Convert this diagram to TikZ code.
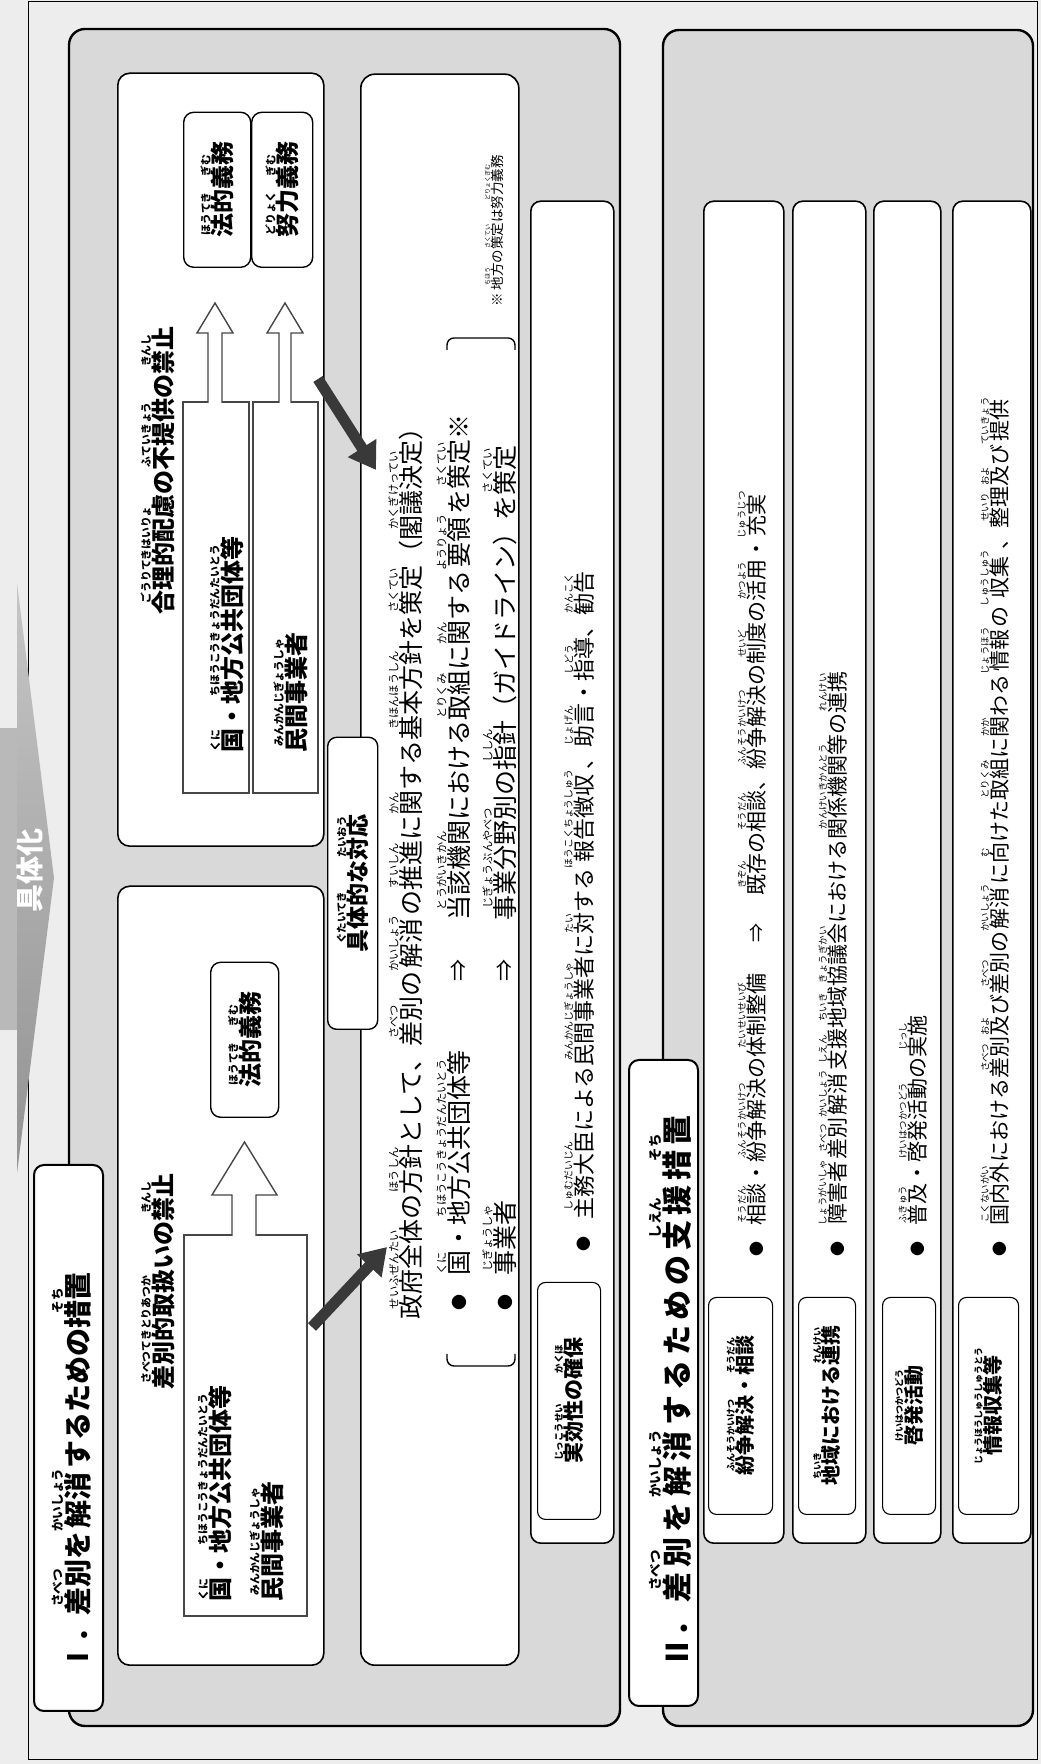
\documentclass[tikz,border=0pt]{standalone}
\usepackage{fontspec}
\setmainfont{Noto Sans CJK JP}
\usetikzlibrary{arrows.meta}
\newcommand\rb[2]{\leavevmode\vbox{\offinterlineskip\tabskip=0pt\halign{\hfil##\hfil\cr{\fontsize{0.45em}{0.45em}\selectfont #2}\cr\noalign{\kern0.02em}\vrule height0.84em width0pt #1\cr}}}
\newcommand\fs[1]{\fontsize{#1}{#1}\selectfont}
\newcommand\gp{\kern5pt}
\tikzset{
  txt/.style={inner sep=0pt, anchor=base west},
  ctxt/.style={inner sep=0pt, anchor=center},
  panel/.style={draw=black, line width=2.4pt, fill=gray!30, rounded corners=16pt, inner sep=0pt, outer sep=0pt, anchor=north west},
  wbox/.style={draw=black, line width=1.6pt, fill=white, rounded corners=12pt, inner sep=0pt, anchor=north west},
  gbox/.style={draw=gray!55!black, line width=1.5pt, fill=white, inner sep=0pt, anchor=north west},
  lbox/.style={draw=black, line width=1.1pt, fill=white, rounded corners=8pt, inner sep=0pt, anchor=north west},
  hollowline/.style={draw=gray!55!black, line width=1.4pt, line join=miter},
  dark/.style={line width=11pt, draw=gray!45!black, -{Triangle[length=26pt,width=32pt]}},
  brk/.style={draw=black, line width=1.4pt, rounded corners=7pt},
}
\begin{document}
\begin{tikzpicture}[x=1pt,y=1pt]
\fill[gray!14] (0,0) rectangle (1041,1764);
\useasboundingbox (0,0) rectangle (1041,1764);
\begin{scope}[rotate=90, transform shape]
% outer frame
\node[draw=black, line width=0.8pt, inner sep=0pt, anchor=north west, minimum width=1758, minimum height=1009] (frame) at (4,-28) {};
% gutaika arrow
\fill[gray!55] (734,6) rectangle (1036,-17);
\shade[top color=gray!45, bottom color=gray!85] (591,-17) -- (1181,-17) -- (886,-54) -- cycle;
\node[ctxt, font=\fs{28}\bfseries, text=white] (gutai) at (893,-30) {具体化};
% panels
\node[panel, minimum width=1697, minimum height=551] (panelI) at (38,-69) {};
\node[panel, minimum width=1696, minimum height=370] (panelII) at (38,-663) {};
% title I
\node[wbox, rounded corners=10pt, line width=2pt, minimum width=546, minimum height=69] (tIbox) at (52,-33) {};
\node[txt, font=\fs{28}\bfseries] (tI) at (92,-88) {Ⅰ．\rb{差別}{さべつ}を\rb{解消}{かいしょう}するための\rb{措置}{そち}};
% Box A
\node[wbox, minimum width=779, minimum height=206] (boxA) at (98,-117) {};
\node[txt, font=\fs{24}\bfseries] (tA) at (374,-172) {\rb{差別的取扱}{さべつてきとりあつか}いの\rb{禁止}{きんし}};
\node[gbox, minimum width=381, minimum height=123] (inA) at (147,-183) {};
\node[txt, font=\fs{24}\bfseries] (inA1) at (162,-229) {\rb{国}{くに}・\rb{地方公共団体等}{ちほうこうきょうだんたいとう}};
\node[txt, font=\fs{24}\bfseries] (inA2) at (162,-281) {\rb{民間事業者}{みんかんじぎょうしゃ}};
\fill[white] (526,-232) -- (569,-232) -- (569,-212) -- (622,-244.5) -- (569,-277) -- (569,-256) -- (526,-256) -- cycle;
\draw[hollowline] (528,-232) -- (569,-232) -- (569,-212) -- (622,-244.5) -- (569,-277) -- (569,-256) -- (528,-256);
\node[wbox, rounded corners=10pt, line width=1.4pt, minimum width=155, minimum height=68] (houA) at (646,-210) {};
\node[ctxt, font=\fs{24}\bfseries] (houAt) at (houA.center) {\rb{法的}{ほうてき}\rb{義務}{ぎむ}};
% Box B
\node[wbox, minimum width=773, minimum height=206] (boxB) at (917,-117) {};
\node[txt, font=\fs{24}\bfseries] (tB) at (1149,-172) {\rb{合理的配慮}{ごうりてきはいりょ}の\rb{不提供}{ふていきょう}の\rb{禁止}{きんし}};
\node[gbox, minimum width=391, minimum height=66] (inB1) at (970,-182) {};
\node[gbox, minimum width=391, minimum height=65] (inB2) at (970,-252) {};
\node[txt, font=\fs{24}\bfseries] (inB1t) at (1011,-241) {\rb{国}{くに}・\rb{地方公共団体等}{ちほうこうきょうだんたいとう}};
\node[txt, font=\fs{24}\bfseries] (inB2t) at (1011,-305) {\rb{民間事業者}{みんかんじぎょうしゃ}};
\fill[white] (1359,-208) -- (1431,-208) -- (1431,-197) -- (1461,-215) -- (1431,-233) -- (1431,-222) -- (1359,-222) -- cycle;
\draw[hollowline] (1361,-208) -- (1431,-208) -- (1431,-197) -- (1461,-215) -- (1431,-233) -- (1431,-222) -- (1361,-222);
\fill[white] (1359,-279) -- (1431,-279) -- (1431,-267) -- (1461,-285) -- (1431,-303) -- (1431,-291) -- (1359,-291) -- cycle;
\draw[hollowline] (1361,-279) -- (1431,-279) -- (1431,-267) -- (1461,-285) -- (1431,-303) -- (1431,-291) -- (1361,-291);
\node[wbox, rounded corners=10pt, line width=1.4pt, minimum width=155, minimum height=67] (houB) at (1496,-183) {};
\node[ctxt, font=\fs{24}\bfseries] (houBt) at (houB.center) {\rb{法的}{ほうてき}\rb{義務}{ぎむ}};
\node[wbox, rounded corners=10pt, line width=1.4pt, minimum width=155, minimum height=61] (dorB) at (1496,-251) {};
\node[ctxt, font=\fs{24}\bfseries] (dorBt) at (dorB.center) {\rb{努力}{どりょく}\rb{義務}{ぎむ}};
% Box D
\node[wbox, rounded corners=14pt, minimum width=1591, minimum height=158] (boxD) at (98,-360) {};
\node[wbox, rounded corners=9pt, line width=1.4pt, minimum width=292, minimum height=50] (taiou) at (734,-327) {};
\node[ctxt, font=\fs{23}\bfseries] (taiout) at (taiou.center) {\rb{具体的}{ぐたいてき}な\rb{対応}{たいおう}};
\node[txt, font=\fs{25}] (l1) at (444,-420) {\rb{政府全体}{せいふぜんたい}の\rb{方針}{ほうしん}として、\rb{差別}{さべつ}の\rb{解消}{かいしょう}の\rb{推進}{すいしん}に\rb{関}{かん}する\rb{基本方針}{きほんほうしん}を\rb{策定}{さくてい}（\rb{閣議決定}{かくぎけってい}）};
\node[ctxt, font=\fs{16}] (b2) at (461,-459) {●};
\node[txt, font=\fs{25}] (l2a) at (488,-468) {\rb{国}{くに}・\rb{地方公共団体等}{ちほうこうきょうだんたいとう}};
\node[ctxt, font=\fs{22}] (l2b) at (793,-459) {⇒};
\node[txt, font=\fs{25}] (l2c) at (843,-468) {\rb{当該機関}{とうがいきかん}における\rb{取組}{とりくみ}に\rb{関}{かん}する\rb{要領}{ようりょう}を\rb{策定}{さくてい}※};
\node[ctxt, font=\fs{16}] (b3) at (461,-505) {●};
\node[txt, font=\fs{25}] (l3a) at (488,-514) {\rb{事業者}{じぎょうしゃ}};
\node[ctxt, font=\fs{22}] (l3b) at (793,-505) {⇒};
\node[txt, font=\fs{25}] (l3c) at (843,-514) {\rb{事業分野別}{じぎょうぶんやべつ}の\rb{指針}{ししん}（ガイドライン）を\rb{策定}{さくてい}};
\draw[brk] (410,-447) -- (398,-447) -- (398,-515) -- (410,-515);
\draw[brk] (1414,-447) -- (1426,-447) -- (1426,-515) -- (1414,-515);
\node[txt, font=\fs{13.5}] (note) at (1457,-502) {※ \rb{地方}{ちほう}の\rb{策定}{さくてい}は\rb{努力義務}{どりょくぎむ}};
% Box E
\node[wbox, rounded corners=10pt, minimum width=1342, minimum height=83] (boxE) at (220,-530) {};
\node[lbox, minimum width=237, minimum height=63] (jk) at (244,-537) {};
\node[ctxt, font=\fs{21}\bfseries] (jkt) at (jk.center) {\rb{実効性}{じっこうせい}の\rb{確保}{かくほ}};
\node[ctxt, font=\fs{15}] (bE) at (520,-584) {●};
\node[txt, font=\fs{22}] (tE) at (544,-592) {\rb{主務大臣}{しゅむだいじん}による\rb{民間事業者}{みんかんじぎょうしゃ}に\rb{対}{たい}する\rb{報告徴収}{ほうこくちょうしゅう}、\rb{助言}{じょげん}・\rb{指導}{しどう}、\rb{勧告}{かんこく}};
% title II
\node[wbox, rounded corners=10pt, line width=2pt, minimum width=646, minimum height=69] (tIIbox) at (57,-628) {};
\node[txt, font=\fs{30}\bfseries] (tII) at (96,-688) {Ⅱ．\gp\rb{差\gp 別}{さべつ}\gp を\gp\rb{解\gp 消}{かいしょう}\gp す\gp る\gp た\gp め\gp の\gp\rb{支\gp 援}{しえん}\gp\rb{措\gp 置}{そち}};
% rows
\node[wbox, rounded corners=10pt, minimum width=1342, minimum height=80] (r1) at (220,-703) {};
\node[lbox, minimum width=217, minimum height=64] (r1l) at (249,-708) {};
\node[ctxt, font=\fs{20}\bfseries] (r1lt) at (r1l.center) {\rb{紛争解決}{ふんそうかいけつ}・\rb{相談}{そうだん}};
\node[ctxt, font=\fs{15}] (r1b) at (515,-757) {●};
\node[txt, font=\fs{21}] (r1a) at (538,-764) {\rb{相談}{そうだん}・\rb{紛争解決}{ふんそうかいけつ}の\rb{体制整備}{たいせいせいび}};
\node[ctxt, font=\fs{19}] (r1arr) at (831,-757) {⇒};
\node[txt, font=\fs{21}] (r1c) at (868,-764) {\rb{既存}{きぞん}の\rb{相談}{そうだん}、\rb{紛争解決}{ふんそうかいけつ}の\rb{制度}{せいど}の\rb{活用}{かつよう}・\rb{充実}{じゅうじつ}};
\node[wbox, rounded corners=10pt, minimum width=1342, minimum height=73] (r2) at (220,-792) {};
\node[lbox, minimum width=217, minimum height=57] (r2l) at (249,-798) {};
\node[ctxt, font=\fs{20}\bfseries] (r2lt) at (r2l.center) {\rb{地域}{ちいき}における\rb{連携}{れんけい}};
\node[ctxt, font=\fs{15}] (r2b) at (515,-838) {●};
\node[txt, font=\fs{21}] (r2a) at (538,-845) {\rb{障害者}{しょうがいしゃ}\rb{差別}{さべつ}\rb{解消}{かいしょう}\rb{支援}{しえん}\rb{地域}{ちいき}\rb{協議会}{きょうぎかい}における\rb{関係機関等}{かんけいきかんとう}の\rb{連携}{れんけい}};
\node[wbox, rounded corners=10pt, minimum width=1342, minimum height=67] (r3) at (220,-873) {};
\node[lbox, minimum width=217, minimum height=53] (r3l) at (249,-882) {};
\node[ctxt, font=\fs{20}\bfseries] (r3lt) at (r3l.center) {\rb{啓発活動}{けいはつかつどう}};
\node[ctxt, font=\fs{15}] (r3b) at (515,-918) {●};
\node[txt, font=\fs{21}] (r3a) at (538,-925) {\rb{普及}{ふきゅう}・\rb{啓発活動}{けいはつかつどう}の\rb{実施}{じっし}};
\node[wbox, rounded corners=10pt, minimum width=1342, minimum height=78] (r4) at (220,-952) {};
\node[lbox, minimum width=217, minimum height=60] (r4l) at (249,-958) {};
\node[ctxt, font=\fs{20}\bfseries] (r4lt) at (r4l.center) {\rb{情報収集等}{じょうほうしゅうしゅうとう}};
\node[ctxt, font=\fs{15}] (r4b) at (515,-1000) {●};
\node[txt, font=\fs{21}] (r4a) at (538,-1007) {\rb{国内外}{こくないがい}における\rb{差別}{さべつ}\rb{及}{およ}び\rb{差別}{さべつ}の\rb{解消}{かいしょう}に\rb{向}{む}けた\rb{取組}{とりくみ}に\rb{関}{かか}わる\rb{情報}{じょうほう}の\rb{収集}{しゅうしゅう}、\rb{整理}{せいり}\rb{及}{およ}び\rb{提供}{ていきょう}};
% dark arrows
\coordinate (a1s) at (437,-312);
\coordinate (a1e) at (517,-387);
\coordinate (a2s) at (1385,-318);
\coordinate (a2e) at (1294,-376);
\draw[dark] (a1s) -- (a1e);
\draw[dark] (a2s) -- (a2e);
\end{scope}
\end{tikzpicture}
\end{document}
